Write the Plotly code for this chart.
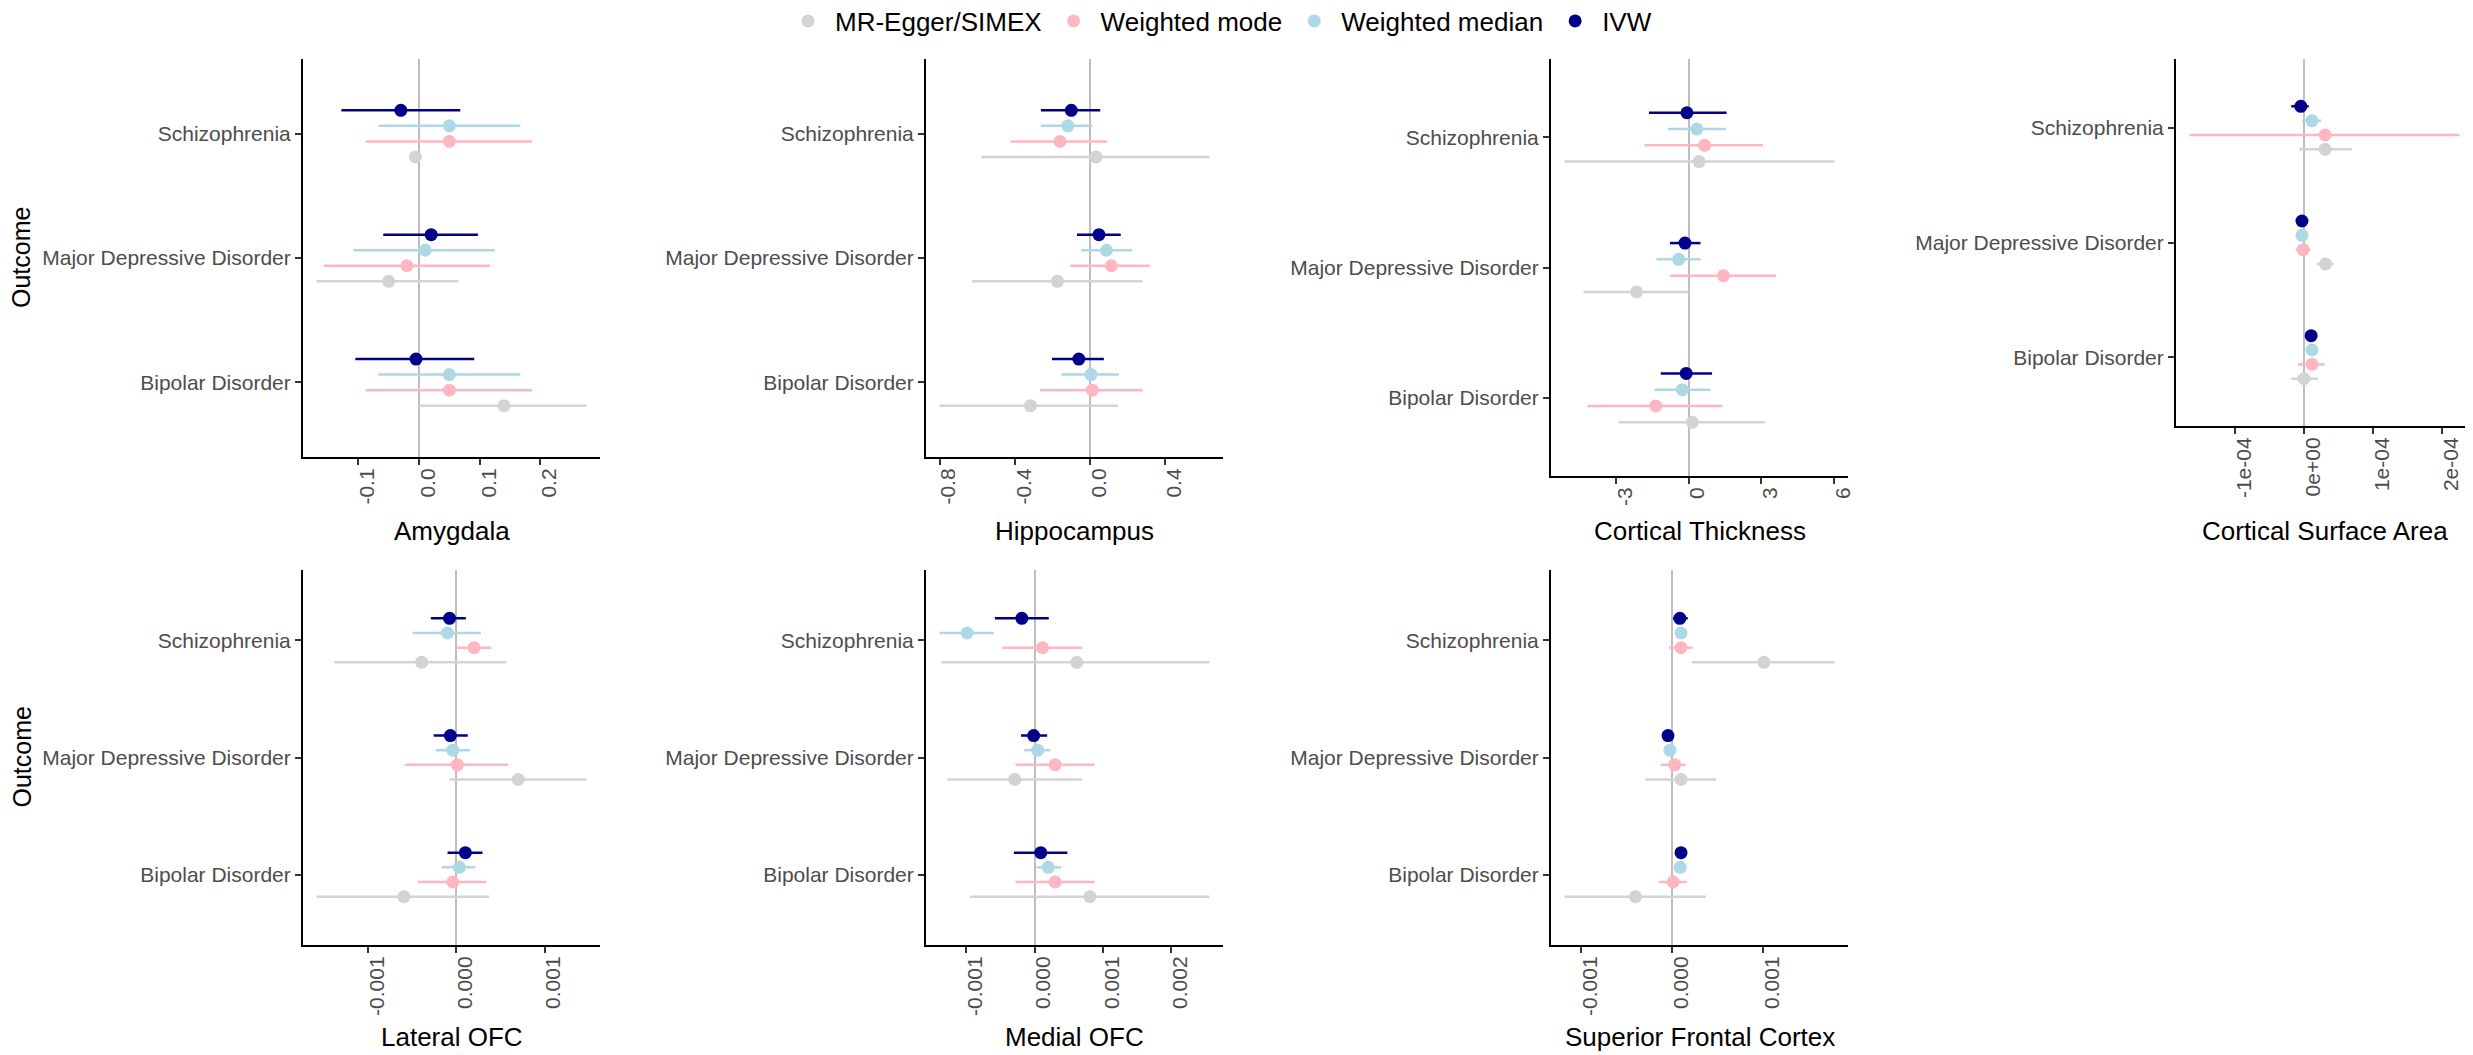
import plotly.graph_objects as go

# the page body keeps an 8 px margin, so the figure is shrunk by that much
OFF = 8
W, H = 2473 - OFF, 1055 - OFF

outcomes = ["Schizophrenia", "Major Depressive Disorder", "Bipolar Disorder"]
methods = ["MR-Egger/SIMEX", "Weighted mode", "Weighted median", "IVW"]

# (estimate, lower CI, upper CI) per outcome: Schizophrenia, MDD, Bipolar
amygdala = {
    "IVW": [(-0.030, -0.128, 0.068), (0.020, -0.059, 0.097), (-0.005, -0.105, 0.091)],
    "Weighted median": [(0.050, -0.067, 0.167), (0.010, -0.108, 0.125), (0.050, -0.067, 0.167)],
    "Weighted mode": [(0.050, -0.088, 0.186), (-0.020, -0.157, 0.117), (0.050, -0.088, 0.186)],
    "MR-Egger/SIMEX": [(-0.006, -0.011, -0.001), (-0.050, -0.169, 0.065), (0.140, 0.000, 0.276)],
}
hippocampus = {
    "IVW": [(-0.099, -0.261, 0.055), (0.048, -0.069, 0.164), (-0.059, -0.202, 0.074)],
    "Weighted median": [(-0.118, -0.261, 0.013), (0.088, -0.046, 0.225), (0.006, -0.152, 0.154)],
    "Weighted mode": [(-0.160, -0.421, 0.091), (0.114, -0.105, 0.320), (0.013, -0.265, 0.280)],
    "MR-Egger/SIMEX": [(0.032, -0.579, 0.636), (-0.173, -0.627, 0.280), (-0.316, -0.800, 0.149)],
}
cortical_thickness = {
    "IVW": [(-0.07, -1.64, 1.57), (-0.15, -0.77, 0.49), (-0.10, -1.15, 0.97)],
    "Weighted median": [(0.34, -0.85, 1.54), (-0.41, -1.33, 0.49), (-0.26, -1.41, 0.90)],
    "Weighted mode": [(0.66, -1.82, 3.08), (1.44, -0.77, 3.62), (-1.36, -4.18, 1.41)],
    "MR-Egger/SIMEX": [(0.43, -5.13, 6.03), (-2.15, -4.34, 0.00), (0.16, -2.89, 3.16)],
}
cortical_surface = {
    "IVW": [(-4.6e-6, -1.85e-5, 6.9e-6), (-2.9e-6, -1.0e-5, 5.8e-6), (1.04e-5, 2.9e-6, 1.85e-5)],
    "Weighted median": [(1.16e-5, -2.9e-6, 2.49e-5), (-2.9e-6, -8.0e-6, 2.0e-6), (1.16e-5, 4.6e-6, 1.85e-5)],
    "Weighted mode": [(3.06e-5, -1.659e-4, 2.254e-4), (-1.2e-6, -1.16e-5, 9.2e-6), (1.16e-5, -8.7e-6, 3.0e-5)],
    "MR-Egger/SIMEX": [(3.06e-5, -6.9e-6, 6.94e-5), (3.12e-5, 1.85e-5, 4.28e-5), (0.0, -1.85e-5, 2.02e-5)],
}
lateral_ofc = {
    "IVW": [(-7.6e-5, -2.88e-4, 1.08e-4), (-6.7e-5, -2.56e-4, 1.30e-4), (1.03e-4, -9.9e-5, 2.97e-4)],
    "Weighted median": [(-9.9e-5, -4.94e-4, 2.79e-4), (-4.0e-5, -2.34e-4, 1.57e-4), (3.6e-5, -1.66e-4, 2.16e-4)],
    "Weighted mode": [(2.02e-4, 0.0, 3.96e-4), (1.3e-5, -5.84e-4, 5.84e-4), (-4.0e-5, -4.36e-4, 3.42e-4)],
    "MR-Egger/SIMEX": [(-3.91e-4, -1.380e-3, 5.66e-4), (7.01e-4, -7.6e-5, 1.474e-3), (-5.93e-4, -1.582e-3, 3.73e-4)],
}
medial_ofc = {
    "IVW": [(-1.85e-4, -5.78e-4, 2.08e-4), (-1.2e-5, -1.97e-4, 1.85e-4), (9.2e-5, -3.01e-4, 4.80e-4)],
    "Weighted median": [(-9.83e-4, -1.387e-3, -5.95e-4), (4.6e-5, -1.56e-4, 2.31e-4), (2.02e-4, 2.9e-5, 3.87e-4)],
    "Weighted mode": [(1.16e-4, -4.74e-4, 6.94e-4), (3.01e-4, -2.77e-4, 8.79e-4), (3.01e-4, -2.77e-4, 8.79e-4)],
    "MR-Egger/SIMEX": [(6.18e-4, -1.358e-3, 2.555e-3), (-2.89e-4, -1.272e-3, 6.94e-4), (8.09e-4, -9.42e-4, 2.555e-3)],
}
superior_frontal = {
    "IVW": [(8.7e-5, 1.3e-5, 1.74e-4), (-4.3e-5, -1.0e-4, 2.2e-5), (1.0e-4, 4.3e-5, 1.65e-4)],
    "Weighted median": [(1.0e-4, 8.0e-5, 1.2e-4), (-2.2e-5, -8.7e-5, 4.3e-5), (9.1e-5, 2.2e-5, 1.52e-4)],
    "Weighted mode": [(1.0e-4, -3.0e-5, 2.26e-4), (3.0e-5, -1.22e-4, 1.52e-4), (1.3e-5, -1.43e-4, 1.65e-4)],
    "MR-Egger/SIMEX": [(1.009e-3, 2.22e-4, 1.783e-3), (1.0e-4, -2.91e-4, 4.83e-4), (-4.0e-4, -1.178e-3, 3.74e-4)],
}

ticks_amygdala = ([-0.1, 0.0, 0.1, 0.2], ["-0.1", "0.0", "0.1", "0.2"])
ticks_hippocampus = ([-0.8, -0.4, 0.0, 0.4], ["-0.8", "-0.4", "0.0", "0.4"])
ticks_thickness = ([-3, 0, 3, 6], ["-3", "0", "3", "6"])
ticks_surface = ([-1e-4, 0, 1e-4, 2e-4], ["-1e-04", "0e+00", "1e-04", "2e-04"])
ticks_lateral = ([-0.001, 0, 0.001], ["-0.001", "0.000", "0.001"])
ticks_medial = ([-0.001, 0, 0.001, 0.002], ["-0.001", "0.000", "0.001", "0.002"])
ticks_superior = ([-0.001, 0, 0.001], ["-0.001", "0.000", "0.001"])

panels = [
    ("Amygdala", amygdala, ticks_amygdala),
    ("Hippocampus", hippocampus, ticks_hippocampus),
    ("Cortical Thickness", cortical_thickness, ticks_thickness),
    ("Cortical Surface Area", cortical_surface, ticks_surface),
    ("Lateral OFC", lateral_ofc, ticks_lateral),
    ("Medial OFC", medial_ofc, ticks_medial),
    ("Superior Frontal Cortex", superior_frontal, ticks_superior),
]

colours = {"MR-Egger/SIMEX": "#D3D3D3", "Weighted mode": "#FFB6C1",
           "Weighted median": "#ADD8E6", "IVW": "#00008B"}
dodge = {"IVW": 0.1875, "Weighted median": 0.0625, "Weighted mode": -0.0625, "MR-Egger/SIMEX": -0.1875}

# panel boxes in screen pixels: left, top, right, bottom
boxes = [(303, 59, 600, 457), (926, 59, 1223, 457), (1551, 59, 1848, 476), (2176, 59, 2473, 426),
         (303, 570, 600, 945), (926, 570, 1223, 945), (1551, 570, 1848, 945)]
title_y = [531, 531, 531, 531, 1037, 1037, 1037]


def px(x):
    return (x - OFF) / W


def py(y):
    return 1 - (y - OFF) / H


FONT = "Liberation Sans, Arial, sans-serif"

fig = go.Figure()
layout = {}
annotations = []
for i, (title, data, (tv, tt)) in enumerate(panels):
    n = "" if i == 0 else str(i + 1)
    lo_all = min(d[1] for m in methods for d in data[m])
    hi_all = max(d[2] for m in methods for d in data[m])
    pad = (hi_all - lo_all) * 0.05
    for m in methods:
        est = [d[0] for d in data[m]]
        ypos = [3 - k + dodge[m] for k in range(3)]
        fig.add_trace(go.Scatter(
            x=est, y=ypos, mode="markers", name=m, legendgroup=m, showlegend=(i == 0),
            marker=dict(color=colours[m], size=13),
            error_x=dict(type="data", symmetric=False,
                         array=[d[2] - d[0] for d in data[m]],
                         arrayminus=[d[0] - d[1] for d in data[m]],
                         width=0, thickness=2.5, color=colours[m]),
            xaxis="x" + n, yaxis="y" + n, hoverinfo="x+name"))
    l, t, r, b = boxes[i]
    layout["xaxis" + n] = dict(
        domain=[px(l), min(px(r), 1)], range=[lo_all - pad, hi_all + pad], anchor="y" + n,
        tickvals=tv, ticktext=tt, tickangle=-90, ticks="outside", ticklen=6, tickwidth=2,
        tickcolor="#333333", tickfont=dict(size=21, color="#4D4D4D", family=FONT),
        ticklabelshift=9, ticklabelstandoff=-5, automargin=False,
        showline=True, linecolor="black", linewidth=2, showgrid=False,
        zeroline=True, zerolinecolor="#BEBEBE", zerolinewidth=2)
    layout["yaxis" + n] = dict(
        domain=[py(b), py(t)], range=[0.4, 3.6], anchor="x" + n,
        tickvals=[3, 2, 1], ticktext=outcomes, ticks="outside", ticklen=6, tickwidth=2,
        tickcolor="#333333", tickfont=dict(size=21, color="#4D4D4D", family=FONT),
        ticklabelstandoff=0, automargin=False,
        showline=True, linecolor="black", linewidth=2, showgrid=False, zeroline=False)
    annotations.append(dict(text=title, x=px((l + r) / 2), y=py(title_y[i]),
                            xref="paper", yref="paper", showarrow=False,
                            xanchor="center", yanchor="middle",
                            font=dict(size=26, color="black", family=FONT)))

for yc in [(59 + 457) / 2, (570 + 945) / 2]:
    annotations.append(dict(text="Outcome", x=0, y=py(yc), xref="paper", yref="paper",
                            showarrow=False, textangle=-90, xanchor="left", yanchor="middle",
                            xshift=-3, font=dict(size=25, color="black", family=FONT)))

fig.update_layout(
    width=W, height=H, margin=dict(l=0, r=0, t=0, b=0, autoexpand=False),
    paper_bgcolor="white", plot_bgcolor="white",
    font=dict(family=FONT),
    legend=dict(orientation="h", x=px(781), xanchor="left", y=py(21), yanchor="middle",
                itemwidth=44, font=dict(size=26, color="black", family=FONT),
                bgcolor="rgba(0,0,0,0)"),
    annotations=annotations,
    **layout)

fig.write_html("out.html")
